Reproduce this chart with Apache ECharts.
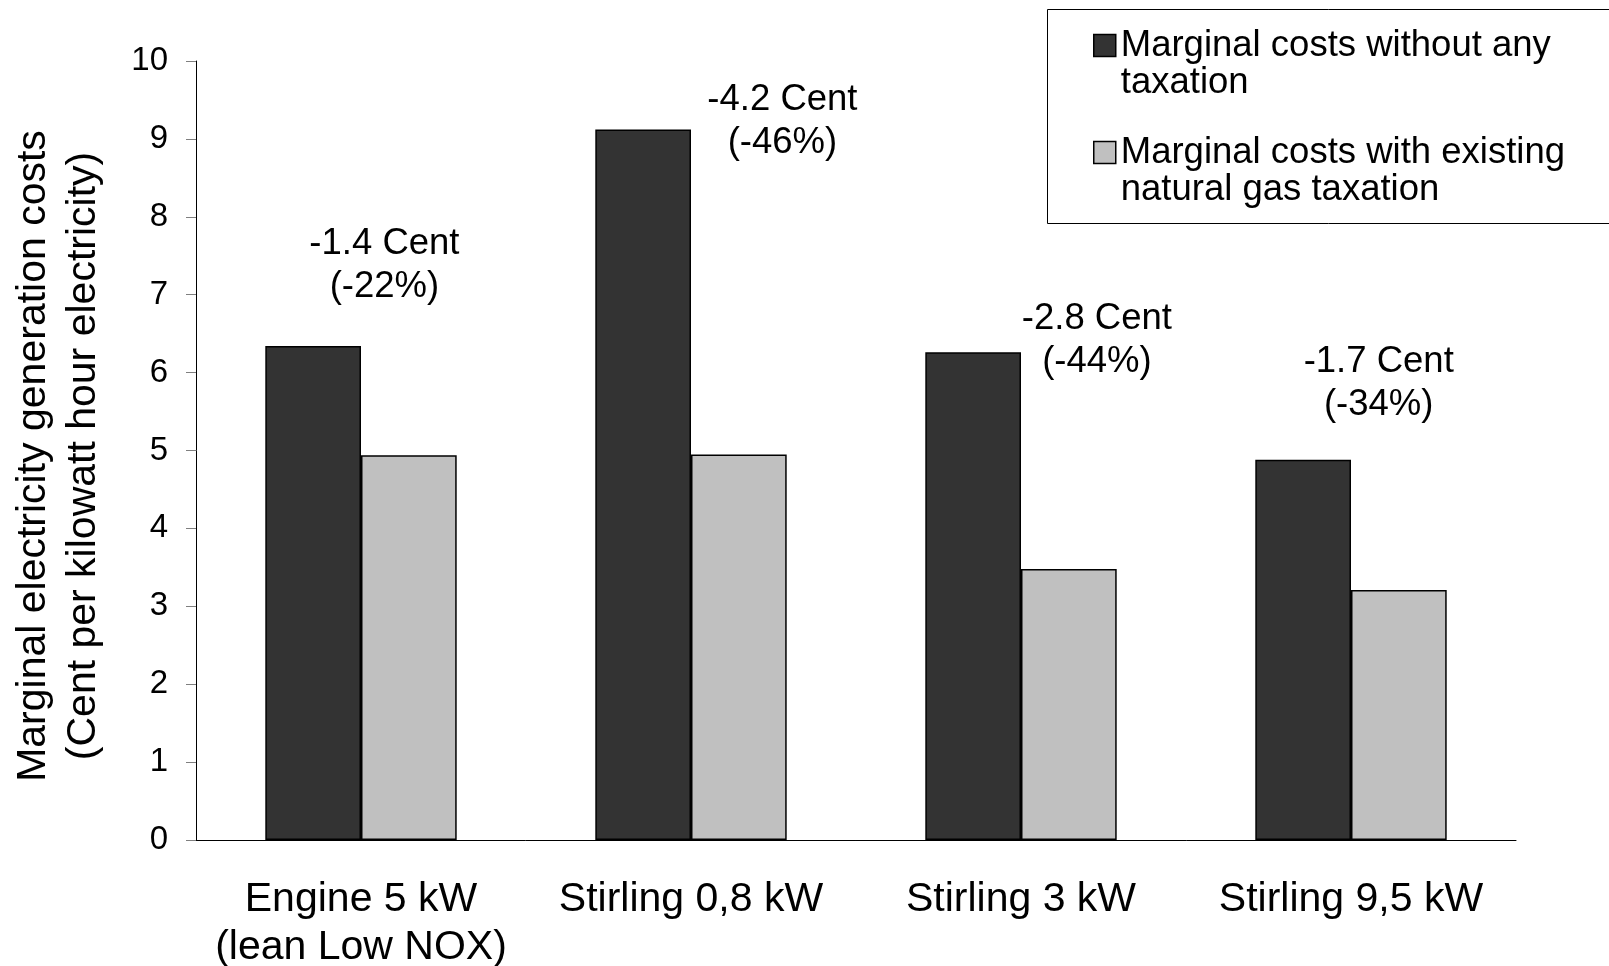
<!DOCTYPE html>
<html>
<head>
<meta charset="utf-8">
<script src="https://cdn.jsdelivr.net/npm/echarts@6/dist/echarts.min.js"></script>
<style>
  html, body { margin: 0; padding: 0; background: #ffffff; }
  #chart { width: 1609px; height: 966px; }
</style>
</head>
<body>
<div id="chart"></div>
<script>
// Micro-CHP units compared
const categories = ['Engine 5 kW\n(lean Low NOX)', 'Stirling 0,8 kW', 'Stirling 3 kW', 'Stirling 9,5 kW'];

// Series names (legend entries)
const seriesNames = [
  'Marginal costs without any\ntaxation',
  'Marginal costs with existing\nnatural gas taxation'
];

// Marginal electricity generation costs, Cent per kWh electricity
const costsWithoutTax = [6.34, 9.12, 6.26, 4.88];
const costsWithGasTax = [4.94, 4.95, 3.48, 3.21];

// Cost reduction caused by the gas taxation, per unit
const savingLabels = ['-1.4 Cent\n(-22%)', '-4.2 Cent\n(-46%)', '-2.8 Cent\n(-44%)', '-1.7 Cent\n(-34%)'];

// Value axis ticks
const yMin = 0;
const yMax = 10;
const yStep = 1;

const FONT = '"Liberation Sans", Arial, Helvetica, sans-serif';

// Where the saving notes sit: [position along the category axis (1 = one category), cost value]
const savingAnchors = [[0.571, 7.38], [1.777, 9.23], [2.730, 6.41], [3.584, 5.86]];

const chart = echarts.init(document.getElementById('chart'), null, { renderer: 'canvas' });

const option = {
  animation: false,
  backgroundColor: '#ffffff',
  textStyle: { fontFamily: FONT, color: '#000000' },
  grid: { left: 196, right: 93, top: 61, bottom: 126, outerBoundsMode: 'none', containLabel: false },
  legend: {
    data: seriesNames,
    orient: 'vertical',
    left: 1093,
    top: -10,
    padding: 0,
    itemWidth: 22,
    itemHeight: 22,
    itemGap: -4,
    icon: 'rect',
    selectedMode: false,
    itemStyle: { borderColor: '#000000', borderWidth: 1.5 },
    // a blank leading line keeps the first text line level with the swatch
    formatter: name => '\u00a0\n' + name,
    textStyle: {
      fontFamily: FONT,
      fontSize: 36.5,
      lineHeight: 37,
      color: '#000000'
    }
  },
  graphic: [{
    type: 'rect',
    left: 1045,
    top: 7,
    shape: { width: 600, height: 214 },
    style: { fill: 'none', stroke: '#000000', lineWidth: 1 },
    silent: true
  }],
  xAxis: [{
    type: 'category',
    data: categories,
    axisLine: { show: true, lineStyle: { color: '#000000', width: 1 } },
    axisTick: { show: false },
    axisLabel: {
      fontFamily: FONT,
      fontSize: 41,
      lineHeight: 48,
      color: '#000000',
      margin: 36,
      interval: 0
    }
  }, {
    type: 'value',
    min: 0,
    max: categories.length,
    show: false
  }],
  yAxis: {
    type: 'value',
    min: yMin,
    max: yMax,
    interval: yStep,
    name: 'Marginal electricity generation costs\n(Cent per kilowatt hour electricity)',
    nameLocation: 'middle',
    nameGap: 87,
    nameTextStyle: {
      fontFamily: FONT, fontSize: 41, lineHeight: 50, color: '#000000',
      padding: [0, 11, 0, 0]
    },
    axisLine: { show: true, lineStyle: { color: '#000000', width: 1 } },
    axisTick: { show: true, length: 10, lineStyle: { color: '#7f7f7f', width: 1 } },
    axisLabel: { fontFamily: FONT, fontSize: 33, color: '#000000', margin: 28 },
    splitLine: { show: false }
  },
  series: [{
    name: seriesNames[0],
    type: 'bar',
    data: costsWithoutTax,
    barGap: '0%',
    barCategoryGap: '42%',
    itemStyle: { color: '#333333', borderColor: '#000000', borderWidth: 1.5 }
  }, {
    name: seriesNames[1],
    type: 'bar',
    data: costsWithGasTax,
    barGap: '0%',
    barCategoryGap: '42%',
    itemStyle: { color: '#c0c0c0', borderColor: '#000000', borderWidth: 1.5 }
  }, {
    name: 'savings',
    type: 'scatter',
    xAxisIndex: 1,
    silent: true,
    symbolSize: 0,
    itemStyle: { color: '#000000', opacity: 1 },
    data: savingAnchors.map((a, i) => ({
      value: a,
      label: { formatter: savingLabels[i] }
    })),
    label: {
      show: true,
      position: 'top',
      distance: 0,
      align: 'center',
      verticalAlign: 'middle',
      fontFamily: FONT,
      fontSize: 36.5,
      lineHeight: 43,
      color: '#000000'
    }
  }]
};

chart.setOption(option);
</script>
</body>
</html>
